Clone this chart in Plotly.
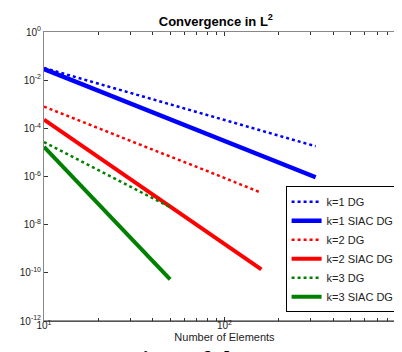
import plotly.graph_objects as go

# ---- data ----
n_k1 = [10, 20, 40, 80, 160, 320]
n_k2 = [10, 20, 40, 80, 160]
n_k3 = [10, 20, 30, 40, 50]

k1_dg = [3.2e-2, 7.2e-3, 1.6e-3, 3.6e-4, 8.1e-5, 1.8e-5]
k1_siac = [2.9e-2, 3.7e-3, 4.6e-4, 5.8e-5, 7.3e-6, 9.3e-7]
k2_dg = [8.0e-4, 1.0e-4, 1.3e-5, 1.7e-6, 2.1e-7]
k2_siac = [2.3e-4, 6.3e-6, 1.75e-7, 4.8e-9, 1.4e-10]
k3_dg = [2.7e-5, 1.85e-6, 3.8e-7, 1.26e-7, 5.3e-8]
k3_siac = [1.7e-5, 7.1e-8, 2.9e-9, 3.0e-10, 5.3e-11]

x_tickvals = [10, 100, 1000]
x_ticktext = ["10<sup>1</sup>", "10<sup>2</sup>", "10<sup>3</sup>"]
x_minorvals = [20, 30, 40, 50, 60, 70, 80, 90, 200, 300, 400, 500, 600, 700, 800, 900]
y_tickvals = [1e0, 1e-2, 1e-4, 1e-6, 1e-8, 1e-10, 1e-12]
y_ticktext = ["10<sup>0</sup>", "10<sup>-2</sup>", "10<sup>-4</sup>", "10<sup>-6</sup>",
              "10<sup>-8</sup>", "10<sup>-10</sup>", "10<sup>-12</sup>"]

series = [
    ("k=1 DG", n_k1, k1_dg, "#0000ff", "dot", 2.5),
    ("k=1 SIAC DG", n_k1, k1_siac, "#0000ff", "solid", 4.5),
    ("k=2 DG", n_k2, k2_dg, "#ff0000", "dot", 2.5),
    ("k=2 SIAC DG", n_k2, k2_siac, "#ff0000", "solid", 4),
    ("k=3 DG", n_k3, k3_dg, "#008000", "dot", 2.5),
    ("k=3 SIAC DG", n_k3, k3_siac, "#008000", "solid", 4),
]

fig = go.Figure()
for name, x, y, color, dash, w in series:
    fig.add_trace(go.Scatter(x=x, y=y, mode="lines", name=name,
                             line=dict(color=color, dash=dash, width=w)))

FONT = "Liberation Sans, Arial, sans-serif"
axis_font = dict(family=FONT, size=10, color="#222")

fig.update_layout(
    width=402, height=352,
    margin=dict(l=36, r=5, t=24, b=39, autoexpand=False),
    paper_bgcolor="white", plot_bgcolor="white",
    title=dict(text="<b>Convergence in L<sup>2</sup></b>", x=0.517, xanchor="center",
               y=0.962, yanchor="middle", yref="container",
               font=dict(family=FONT, size=13, color="black")),
    font=axis_font,
    showlegend=True,
    legend=dict(x=0.985, y=0.03, xanchor="right", yanchor="bottom",
                bgcolor="white", bordercolor="black", borderwidth=1,
                font=dict(family=FONT, size=11, color="#222"),
                itemwidth=30, tracegroupgap=0),
)

fig.update_xaxes(type="log", range=[1, 3], tickmode="array",
                 tickvals=x_tickvals, ticktext=x_ticktext, automargin=False,
                 showgrid=False, zeroline=False,
                 showline=True, linecolor="#888", linewidth=1, mirror="allticks",
                 ticks="inside", ticklen=4, tickcolor="#333",
                 ticklabelstandoff=-5, ticklabeloverflow="allow",
                 minor=dict(tickmode="array", tickvals=x_minorvals, ticks="inside",
                            ticklen=3, tickcolor="#333", showgrid=False),
                 tickfont=axis_font,
                 title=dict(text="Number of Elements", font=dict(family=FONT, size=11, color="#222"), standoff=0))
fig.update_yaxes(type="log", range=[-12, 0], tickmode="array",
                 tickvals=y_tickvals, ticktext=y_ticktext, automargin=False,
                 showgrid=False, zeroline=False,
                 showline=True, linecolor="#888", linewidth=1, mirror="allticks",
                 ticks="inside", ticklen=4, tickcolor="#333",
                 tickfont=axis_font)

# darker right and bottom frame edges
fig.add_shape(type="line", xref="paper", yref="paper", x0=1, x1=1, y0=0, y1=1,
              line=dict(color="#222", width=1))
fig.add_shape(type="line", xref="paper", yref="paper", x0=0, x1=1, y0=0, y1=0,
              line=dict(color="#222", width=1))

# cropped caption below the figure
fig.add_annotation(text="<b>2. A comparison of the</b>", xref="paper", yref="paper",
                   x=-0.075, xanchor="left", y=-0.079, yanchor="top", showarrow=False,
                   font=dict(family="Liberation Serif, Times New Roman, serif", size=24, color="black"))

fig.write_html("out.html")
